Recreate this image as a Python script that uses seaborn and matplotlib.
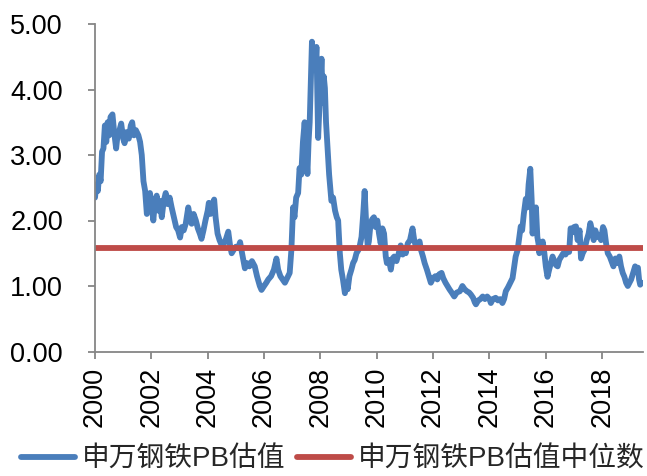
import numpy as np
import pandas as pd
import matplotlib
matplotlib.use("Agg")
import matplotlib.pyplot as plt
import seaborn as sns

# 申万钢铁 PB valuation (year fraction, PB)
years = [
    2000.00, 2000.05, 2000.10, 2000.15, 2000.20, 2000.25, 2000.30, 2000.35, 2000.40, 2000.45,
    2000.50, 2000.55, 2000.62, 2000.68, 2000.75, 2000.80, 2000.87, 2000.93, 2001.00, 2001.05,
    2001.12, 2001.20, 2001.27, 2001.32, 2001.38, 2001.45, 2001.54, 2001.60, 2001.66, 2001.72,
    2001.78, 2001.84, 2001.90, 2001.95, 2002.02, 2002.07, 2002.12, 2002.19, 2002.25, 2002.30,
    2002.37, 2002.44, 2002.51, 2002.58, 2002.65, 2002.72, 2002.80, 2002.88, 2002.95, 2003.02,
    2003.08, 2003.15, 2003.22, 2003.31, 2003.37, 2003.43, 2003.50, 2003.58, 2003.65, 2003.72,
    2003.78, 2003.85, 2003.92, 2004.00, 2004.04, 2004.10, 2004.17, 2004.23, 2004.28, 2004.35,
    2004.42, 2004.50, 2004.58, 2004.65, 2004.73, 2004.80, 2004.85, 2004.92, 2005.00, 2005.08,
    2005.15, 2005.22, 2005.32, 2005.40, 2005.48, 2005.57, 2005.67, 2005.75, 2005.85, 2005.91,
    2006.00, 2006.08, 2006.15, 2006.25, 2006.35, 2006.44, 2006.50, 2006.58, 2006.66, 2006.74,
    2006.82, 2006.91, 2006.97, 2007.03, 2007.08, 2007.14, 2007.21, 2007.26, 2007.32, 2007.38,
    2007.44, 2007.49, 2007.54, 2007.58, 2007.62, 2007.66, 2007.70, 2007.74, 2007.78, 2007.82,
    2007.86, 2007.90, 2007.92, 2007.96, 2008.00, 2008.04, 2008.08, 2008.12, 2008.16, 2008.20,
    2008.24, 2008.27, 2008.31, 2008.35, 2008.39, 2008.45, 2008.52, 2008.58, 2008.63, 2008.66,
    2008.69, 2008.74, 2008.80, 2008.87, 2008.92, 2008.97, 2009.03, 2009.10, 2009.16, 2009.22,
    2009.28, 2009.35, 2009.40, 2009.46, 2009.52, 2009.57, 2009.62, 2009.68, 2009.72, 2009.78,
    2009.84, 2009.90, 2009.96, 2010.02, 2010.08, 2010.14, 2010.20, 2010.26, 2010.32, 2010.36,
    2010.43, 2010.50, 2010.56, 2010.62, 2010.70, 2010.78, 2010.85, 2010.92, 2011.00, 2011.03,
    2011.10, 2011.18, 2011.27, 2011.33, 2011.39, 2011.45, 2011.52, 2011.57, 2011.64, 2011.70,
    2011.78, 2011.85, 2011.92, 2012.00, 2012.08, 2012.15, 2012.22, 2012.30, 2012.36, 2012.44,
    2012.51, 2012.58, 2012.66, 2012.75, 2012.84, 2012.95, 2013.04, 2013.12, 2013.20, 2013.28,
    2013.34, 2013.42, 2013.48, 2013.52, 2013.60, 2013.68, 2013.76, 2013.84, 2013.92, 2014.00,
    2014.05, 2014.12, 2014.22, 2014.30, 2014.38, 2014.46, 2014.52, 2014.58, 2014.66, 2014.74,
    2014.82, 2014.88, 2014.93, 2015.00, 2015.06, 2015.11, 2015.16, 2015.22, 2015.29, 2015.34,
    2015.39, 2015.45, 2015.50, 2015.53, 2015.58, 2015.65, 2015.70, 2015.74, 2015.77, 2015.83,
    2015.89, 2015.95, 2016.00, 2016.06, 2016.12, 2016.18, 2016.24, 2016.30, 2016.36, 2016.42,
    2016.48, 2016.55, 2016.62, 2016.70, 2016.78, 2016.83, 2016.88, 2016.94, 2017.00, 2017.07,
    2017.13, 2017.20, 2017.25, 2017.31, 2017.37, 2017.45, 2017.52, 2017.58, 2017.64, 2017.70,
    2017.76, 2017.82, 2017.90, 2017.96, 2018.03, 2018.08, 2018.14, 2018.20, 2018.27, 2018.33,
    2018.40, 2018.47, 2018.54, 2018.61, 2018.67, 2018.73, 2018.79, 2018.85, 2018.91, 2018.97,
    2019.03, 2019.10, 2019.17, 2019.22, 2019.27, 2019.31, 2019.35, 2019.40,
]
pb = [
    2.35, 2.55, 2.45, 2.70, 2.60, 3.05, 3.10, 3.45, 3.20, 3.50,
    3.30, 3.58, 3.62, 3.35, 3.10, 3.30, 3.38, 3.48, 3.25, 3.18,
    3.35, 3.25, 3.45, 3.50, 3.30, 3.38, 3.30, 3.20, 3.00, 2.60,
    2.45, 2.10, 2.30, 2.42, 2.20, 2.00, 2.25, 2.38, 2.15, 2.30,
    2.05, 2.30, 2.42, 2.25, 2.35, 2.20, 2.05, 1.90, 1.85, 1.74,
    1.90, 1.85, 1.95, 2.20, 2.05, 1.95, 2.10, 2.00, 1.88, 1.80,
    1.72, 1.85, 2.00, 2.15, 2.27, 2.10, 2.25, 2.32, 2.05, 1.80,
    1.70, 1.62, 1.65, 1.72, 1.83, 1.60, 1.50, 1.55, 1.60, 1.58,
    1.67, 1.50, 1.27, 1.35, 1.30, 1.38, 1.30, 1.15, 1.00, 0.94,
    1.00, 1.05, 1.10, 1.15, 1.25, 1.42, 1.25, 1.15, 1.10, 1.05,
    1.12, 1.20, 1.55, 2.20, 2.05, 2.35, 2.42, 2.80, 2.70, 3.20,
    3.50, 3.10, 2.71, 3.20, 3.50, 4.10, 4.73, 4.40, 4.60, 4.30,
    4.65, 3.70, 3.26, 3.70, 4.10, 4.47, 3.80, 4.20, 4.02, 3.50,
    3.20, 3.00, 2.70, 2.50, 2.30, 2.35, 2.15, 2.05, 2.00, 1.75,
    1.50, 1.25, 1.10, 0.89, 1.05, 0.95, 1.15, 1.25, 1.35, 1.40,
    1.50, 1.55, 1.62, 1.75, 2.10, 2.45, 2.00, 1.60, 1.68, 1.95,
    2.02, 2.05, 1.90, 2.00, 1.80, 1.65, 1.88, 1.80, 1.45, 1.35,
    1.40, 1.25, 1.42, 1.45, 1.38, 1.50, 1.62, 1.48, 1.55, 1.50,
    1.65, 1.70, 1.88, 1.70, 1.60, 1.62, 1.68, 1.55, 1.45, 1.35,
    1.25, 1.15, 1.05, 1.12, 1.15, 1.10, 1.18, 1.20, 1.12, 1.05,
    1.00, 0.95, 0.90, 0.84, 0.90, 0.92, 1.00, 0.95, 0.92, 0.90,
    0.87, 0.82, 0.75, 0.72, 0.78, 0.80, 0.84, 0.80, 0.84, 0.80,
    0.74, 0.80, 0.82, 0.78, 0.80, 0.74, 0.80, 0.92, 0.98, 1.05,
    1.12, 1.30, 1.45, 1.55, 1.75, 1.91, 1.85, 2.10, 2.33, 2.20,
    2.55, 2.79, 2.30, 1.80, 2.00, 2.20, 1.75, 1.65, 1.50, 1.60,
    1.68, 1.50, 1.30, 1.14, 1.25, 1.35, 1.45, 1.38, 1.32, 1.30,
    1.40, 1.45, 1.50, 1.48, 1.55, 1.52, 1.88, 1.82, 1.90, 1.91,
    1.70, 1.85, 1.42, 1.50, 1.55, 1.70, 1.80, 1.96, 1.85, 1.70,
    1.85, 1.75, 1.78, 1.70, 1.90, 1.85, 1.65, 1.50, 1.45, 1.38,
    1.30, 1.42, 1.35, 1.45, 1.30, 1.20, 1.14, 1.05, 1.00, 1.05,
    1.10, 1.20, 1.30, 1.25, 1.28, 1.10, 1.02, 1.05,
]
pb_median = 1.58
x_ticks = [2000, 2002, 2004, 2006, 2008, 2010, 2012, 2014, 2016, 2018]
y_ticks = [0, 1, 2, 3, 4, 5]

df = pd.DataFrame({"year": years, "pb": pb})

sns.set_style("white")
plt.rcParams["font.family"] = ["Liberation Sans", "Noto Sans CJK SC"]

fig = plt.figure(figsize=(6.47, 4.76), dpi=100)
ax = fig.add_axes([95 / 647, 1 - 351.5 / 476, 548 / 647, 327.5 / 476])

sns.lineplot(data=df, x="year", y="pb", ax=ax, color="#4A7EBB", linewidth=4.2,
             label="申万钢铁PB估值")
ax.axhline(pb_median, color="#BE4B48", linewidth=4.2, label="申万钢铁PB估值中位数")

ax.set_xlim(2000, 2019.45)
ax.set_ylim(0, 5)
ax.set_xticks(x_ticks)
ax.set_xticklabels([str(t) for t in x_ticks], rotation=90)
ax.set_yticks(y_ticks)
ax.set_yticklabels([f"{t:.2f}" for t in y_ticks])
ax.set_xlabel("")
ax.set_ylabel("")

for side in ["top", "right"]:
    ax.spines[side].set_visible(False)
for side in ["left", "bottom"]:
    ax.spines[side].set_color("#868686")
    ax.spines[side].set_linewidth(1.3)

ax.tick_params(axis="both", which="major", direction="out", length=5, width=1.3,
               color="#868686", labelsize=19.5, labelcolor="black")
ax.tick_params(axis="y", pad=18, left=True)
ax.tick_params(axis="x", pad=6, bottom=True)

ax.legend_.remove()
handles, labels = ax.get_legend_handles_labels()
fig.legend(handles, labels, loc="center", bbox_to_anchor=(333 / 647, 1 - 460 / 476),
           ncol=2, frameon=False, fontsize=20, handlelength=1.95,
           handletextpad=0.25, columnspacing=0.4, borderaxespad=0, borderpad=0)

fig.savefig("out.png", dpi=100)
